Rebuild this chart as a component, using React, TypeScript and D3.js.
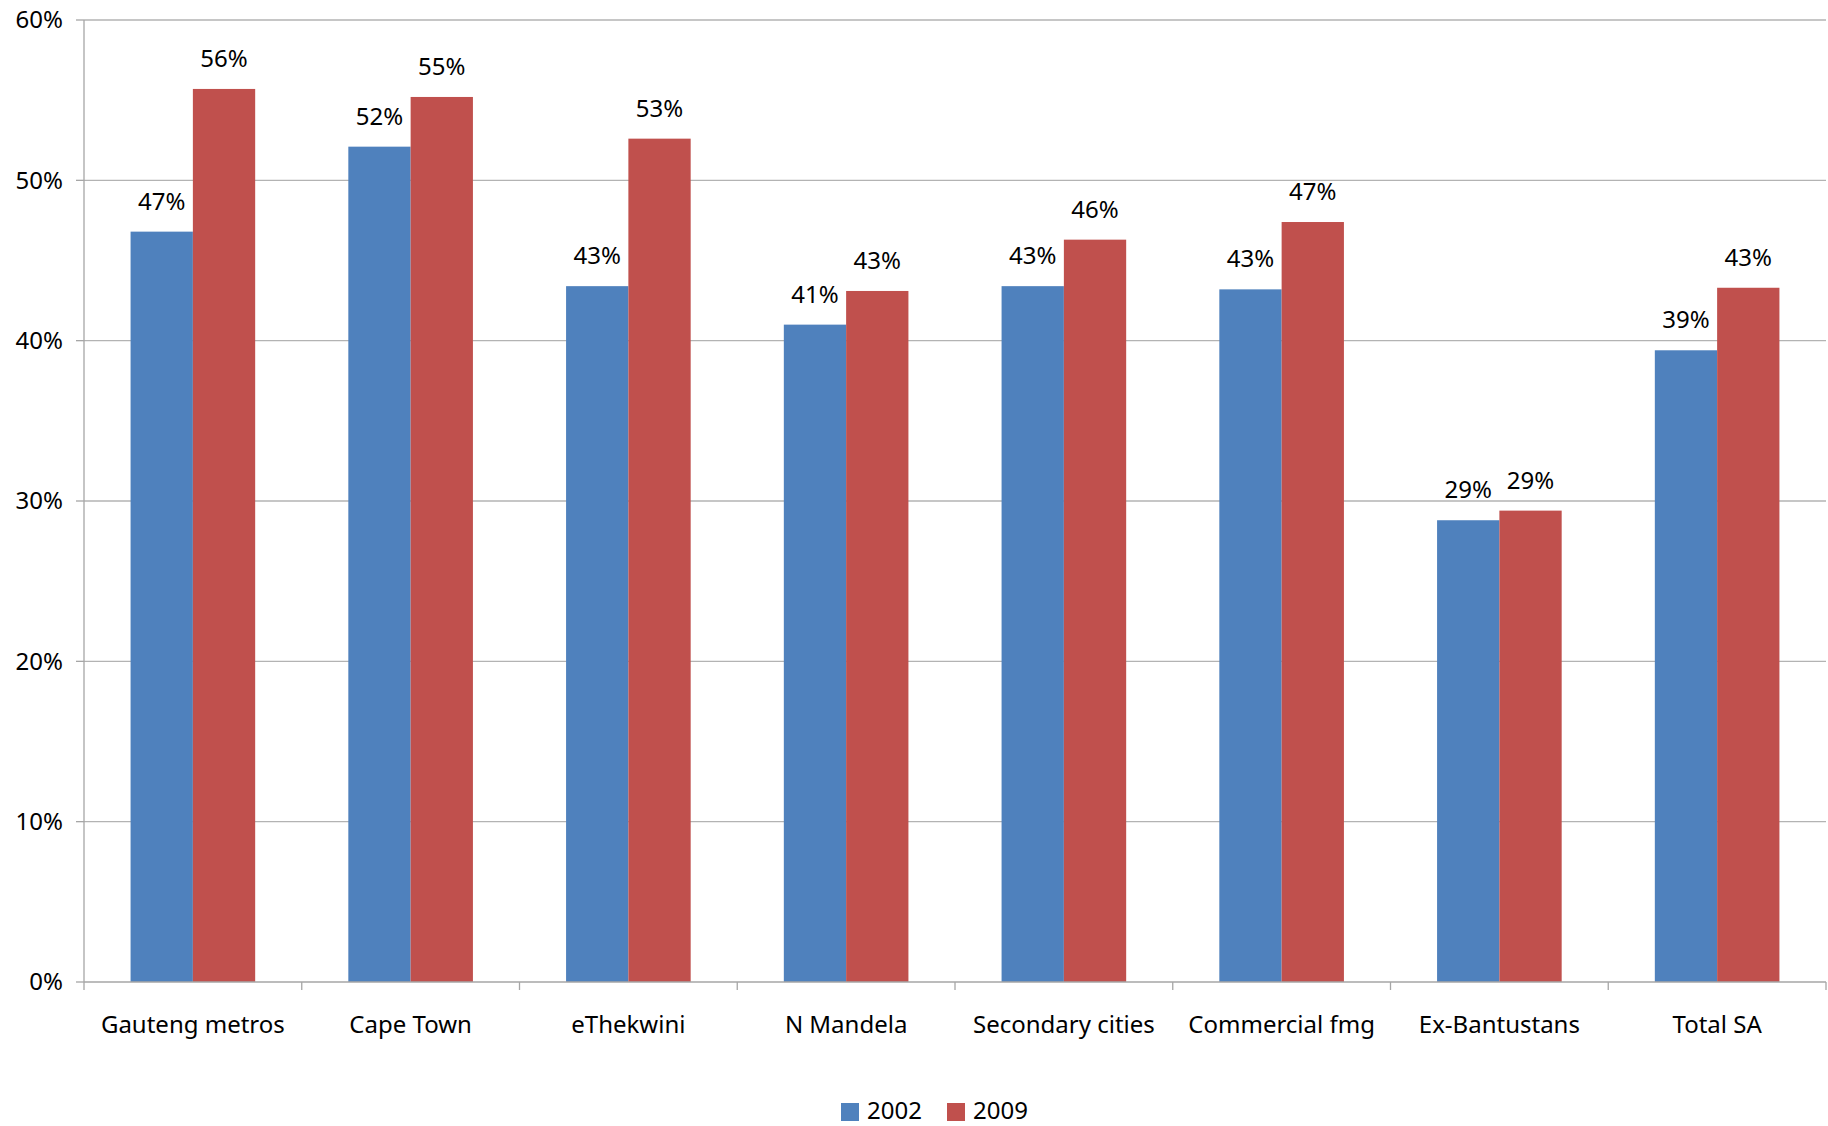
import React from "react";
import * as d3 from "d3";

const categories = ["Gauteng metros", "Cape Town", "eThekwini", "N Mandela", "Secondary cities", "Commercial fmg", "Ex-Bantustans", "Total SA"];
const series2002 = [46.8, 52.1, 43.4, 41.0, 43.4, 43.2, 28.8, 39.4];
const series2009 = [55.7, 55.2, 52.6, 43.1, 46.3, 47.4, 29.4, 43.3];
const seriesNames = ["2002", "2009"];
const seriesColors = ["#4F81BD", "#C0504D"];
const yTicks = [0, 10, 20, 30, 40, 50, 60];

const W = 1828;
const H = 1126;
const FONT = "'Noto Sans', 'Open Sans', sans-serif";
const FS = 24;

export default function App() {
  const left = 84, right = 1826, top = 20, bottom = 982;
  const x = d3.scaleBand<string>().domain(categories).range([left, right]).paddingInner(0).paddingOuter(0);
  const y = d3.scaleLinear().domain([0, 60]).range([bottom, top]);
  const bw = x.bandwidth();
  const barW = 62.3;
  const data = [series2002, series2009];

  return (
    <svg width={W} height={H} style={{ position: "absolute", left: 0, top: 0, background: "#fff" }} fontFamily={FONT}>
      {/* gridlines */}
      {yTicks.filter(t => t > 0).map(t => (
        <line key={"g" + t} x1={left} x2={right} y1={y(t)} y2={y(t)} stroke="#b3b3b3" strokeWidth={1.3} />
      ))}
      {/* bars */}
      {data.map((s, si) =>
        s.map((v, i) => {
          const cx = (x(categories[i]) as number) + bw / 2;
          const x0 = cx - barW + si * barW;
          return (
            <rect key={`b${si}-${i}`} x={x0} y={y(v)} width={barW} height={y(0) - y(v)} fill={seriesColors[si]} />
          );
        })
      )}
      {/* labels */}
      {data.map((s, si) =>
        s.map((v, i) => {
          const cx = (x(categories[i]) as number) + bw / 2;
          const lx = cx - barW / 2 + si * barW;
          return (
            <text key={`l${si}-${i}`} x={lx} y={y(v) - 22} textAnchor="middle" fontSize={FS} fill="#000">
              {Math.round(v) + "%"}
            </text>
          );
        })
      )}
      {/* y axis */}
      <line x1={left} x2={left} y1={top} y2={bottom} stroke="#a6a6a6" strokeWidth={1.3} />
      {yTicks.map(t => (
        <g key={"yt" + t}>
          <line x1={left - 8} x2={left} y1={y(t)} y2={y(t)} stroke="#a6a6a6" strokeWidth={1.3} />
          <text x={63} y={y(t)} dy="0.35em" textAnchor="end" fontSize={FS} fill="#000">{t + "%"}</text>
        </g>
      ))}
      {/* x axis */}
      <line x1={left} x2={right} y1={bottom} y2={bottom} stroke="#a6a6a6" strokeWidth={1.3} />
      {categories.map((c, i) => (
        <line key={"xt" + i} x1={x(c) as number} x2={x(c) as number} y1={bottom} y2={bottom + 8} stroke="#a6a6a6" strokeWidth={1.3} />
      ))}
      <line x1={right} x2={right} y1={bottom} y2={bottom + 8} stroke="#a6a6a6" strokeWidth={1.3} />
      {categories.map(c => (
        <text key={"xl" + c} x={(x(c) as number) + bw / 2} y={1033} textAnchor="middle" fontSize={FS} fill="#000">{c}</text>
      ))}
      {/* legend */}
      {seriesNames.map((n, i) => {
        const lx = 841 + i * 106;
        return (
          <g key={"lg" + n}>
            <rect x={lx} y={1103} width={18} height={18} fill={seriesColors[i]} />
            <text x={lx + 26} y={1119} fontSize={FS} fill="#000">{n}</text>
          </g>
        );
      })}
    </svg>
  );
}
